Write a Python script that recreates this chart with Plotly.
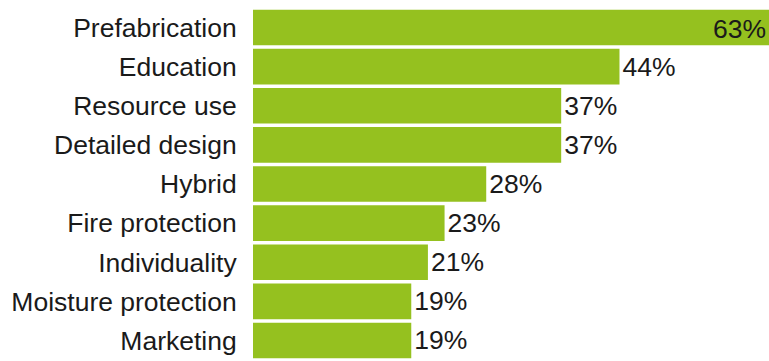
import plotly.graph_objects as go

categories = ["Prefabrication", "Education", "Resource use", "Detailed design", "Hybrid",
              "Fire protection", "Individuality", "Moisture protection", "Marketing"]
values = [63, 44, 37, 37, 28, 23, 21, 19, 19]
labels = [f"{v}%" for v in values]

x_max = 61.95  # visible axis extent; the top bar runs past the frame
FONT = "Liberation Sans, Arial, sans-serif"
TXT = "#1a1a1a"
FS = 26.5

inside = [v > x_max for v in values]
bar_text = ["" if i else t for i, t in zip(inside, labels)]

fig = go.Figure(go.Bar(
    x=values, y=categories, orientation="h",
    marker=dict(color="#95c11f", line=dict(width=0)),
    text=bar_text, textposition="outside",
    textfont=dict(family=FONT, size=FS, color=TXT),
    cliponaxis=True,
    hoverinfo="skip",
))

for cat, v, t, i in zip(categories, values, labels, inside):
    if i:
        fig.add_annotation(x=min(v, x_max), y=cat, xref="x", yref="y", text=t,
                           showarrow=False, xanchor="right", xshift=-1, yshift=-1,
                           font=dict(family=FONT, size=FS, color=TXT))

fig.update_layout(
    width=769, height=361,
    margin=dict(l=253, r=0, t=8, b=1, autoexpand=False),
    paper_bgcolor="white", plot_bgcolor="white",
    bargap=0.09,
    showlegend=False,
    uniformtext=dict(minsize=FS, mode="show"),
    xaxis=dict(range=[0, x_max], visible=False, fixedrange=True, automargin=False),
    yaxis=dict(autorange="reversed", showgrid=False, zeroline=False, showline=False,
               automargin=False, fixedrange=True,
               ticks="outside", ticklen=10, tickcolor="rgba(0,0,0,0)",
               tickfont=dict(family=FONT, size=FS, color=TXT)),
    font=dict(family=FONT),
)

fig.write_html("out.html", config={"displayModeBar": False},
               post_script="document.body.style.margin='0';document.body.style.overflow='hidden';")
